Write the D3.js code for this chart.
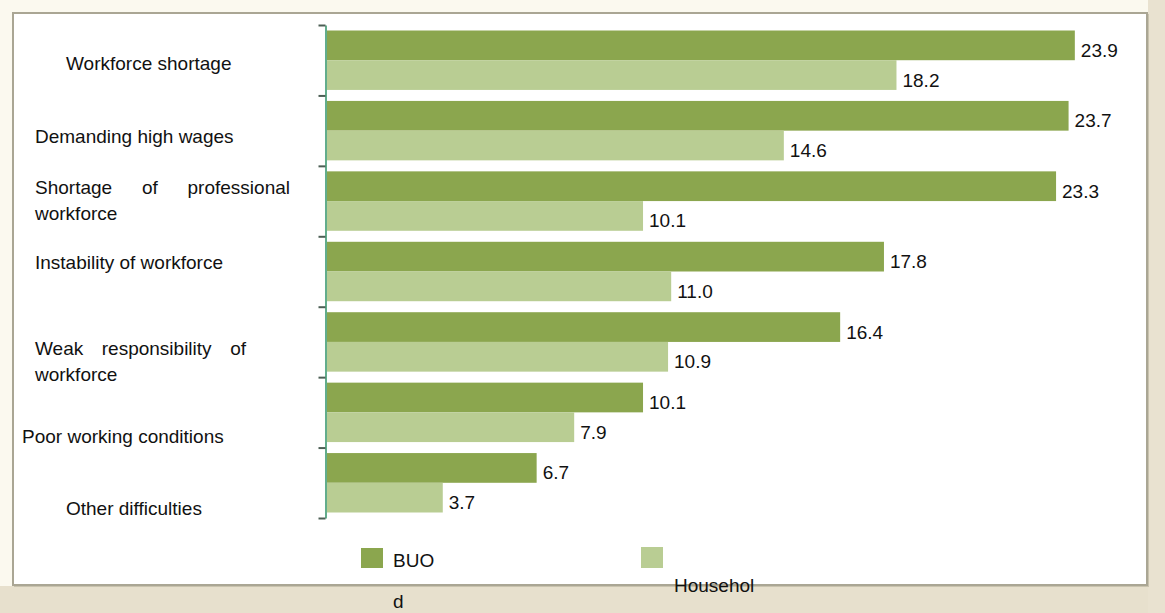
<!DOCTYPE html>
<html>
<head>
<meta charset="utf-8">
<script src="https://cdn.jsdelivr.net/npm/d3@7"></script>
<style>
  html, body { margin: 0; padding: 0; background: #fbf9ef; }
  svg { display: block; }
  text { font-family: "Liberation Sans", Arial, sans-serif; fill: #111; }
</style>
</head>
<body>
<svg id="chart" width="1165" height="613"></svg>
<script>
// Difficulties in hiring workforce, % of respondents
const categories = [
  "Workforce shortage",
  "Demanding high wages",
  "Shortage of professional workforce",
  "Instability of workforce",
  "Weak responsibility of workforce",
  "Poor working conditions",
  "Other difficulties"
];
const seriesNames = ["BUO", "Household"];
const buoValues = [23.9, 23.7, 23.3, 17.8, 16.4, 10.1, 6.7];
const householdValues = [18.2, 14.6, 10.1, 11.0, 10.9, 7.9, 3.7];

// Wrapped category label lines (first line of wrapped labels is justified)
const categoryLines = [
  ["Workforce shortage"],
  ["Demanding high wages"],
  ["Shortage of professional", "workforce"],
  ["Instability of workforce"],
  ["Weak responsibility of", "workforce"],
  ["Poor working conditions"],
  ["Other difficulties"]
];

const colors = { BUO: "#8ba64e", Household: "#b9cd93" };

const svg = d3.select("#chart");
const W = 1165, H = 613;

// Page backdrop: cream, with beige shading to the right and below the panel
svg.append("rect").attr("x", 0).attr("y", 0).attr("width", W).attr("height", H).attr("fill", "#fbf9ef");
svg.append("rect").attr("x", 0).attr("y", 586).attr("width", W).attr("height", H - 586).attr("fill", "#e7e0cd");
svg.append("rect").attr("x", 1148).attr("y", 0).attr("width", W - 1148).attr("height", H).attr("fill", "#e9e2d0");

// Panel
svg.append("rect").attr("x", 13).attr("y", 13).attr("width", 1134).attr("height", 572)
  .attr("fill", "#ffffff").attr("stroke", "#aaa694").attr("stroke-width", 2);
svg.append("line").attr("x1", 1148.5).attr("x2", 1148.5).attr("y1", 14).attr("y2", 587)
  .attr("stroke", "#c9c3ae").attr("stroke-width", 1);
svg.append("line").attr("x1", 14).attr("x2", 1149).attr("y1", 586.5).attr("y2", 586.5)
  .attr("stroke", "#c9c3ae").attr("stroke-width", 1);

// Scales
const x = d3.scaleLinear().domain([0, 25]).range([327, 327 + 31.29 * 25]);
const y = d3.scaleBand().domain(categories).range([25, 518]).padding(0);
const ySub = d3.scaleBand().domain(seriesNames).range([5.5, y.bandwidth() - 5.5]).padding(0);

const rows = categories.map((c, i) => ({
  category: c,
  values: [
    { series: "BUO", value: buoValues[i] },
    { series: "Household", value: householdValues[i] }
  ]
}));

// Bars
const g = svg.append("g");
const groups = g.selectAll("g.row").data(rows).join("g")
  .attr("class", "row")
  .attr("transform", d => `translate(0,${y(d.category)})`);

groups.selectAll("rect").data(d => d.values).join("rect")
  .attr("x", x(0))
  .attr("y", d => ySub(d.series))
  .attr("width", d => x(d.value) - x(0))
  .attr("height", ySub.bandwidth())
  .attr("fill", d => colors[d.series]);

// Value labels
groups.selectAll("text.val").data(d => d.values).join("text")
  .attr("class", "val")
  .attr("x", d => x(d.value) + 6)
  .attr("y", d => ySub(d.series) + ySub.bandwidth() / 2 + 11.5)
  .attr("font-size", 19)
  .text(d => d.value.toFixed(1));

// Category axis: line with ticks at band boundaries
const tickScale = d3.scaleLinear().domain([0, categories.length]).range([25, 518]);
const axis = svg.append("g").attr("transform", "translate(325.5,0)")
  .call(d3.axisLeft(tickScale).ticks(categories.length).tickSize(7).tickSizeOuter(0).tickFormat(""));
axis.select(".domain").attr("stroke", "#62ad8c").attr("stroke-width", 2);
axis.selectAll(".tick line").attr("stroke", "#4c5f55").attr("stroke-width", 2);

// Category labels (placement follows the source layout)
const labelLayout = [
  { x: 66, dy: 10 },
  { x: 35, dy: 12 },
  { x: 35, dy: -7 },
  { x: 35, dy: -3 },
  { x: 35, dy: 13 },
  { x: 22, dy: 31 },
  { x: 66, dy: 32 }
];
const justifyWidth = { "Shortage of professional": 255, "Weak responsibility of": 211 };

// Word-justified line: spread the words so the line fills the given width
function justifiedLine(parent, line, x0, yBase, width) {
  const words = line.split(" ");
  const nodes = words.map(w => parent.append("text").attr("y", yBase).attr("font-size", 19).text(w));
  const widths = nodes.map(n => n.node().getComputedTextLength());
  const gap = (width - d3.sum(widths)) / (words.length - 1);
  let cx = x0;
  nodes.forEach((n, k) => { n.attr("x", cx); cx += widths[k] + gap; });
}

categories.forEach((c, i) => {
  const base = y(c) + y.bandwidth() / 2 + labelLayout[i].dy;
  categoryLines[i].forEach((line, j) => {
    const yy = base + j * 26;
    if (categoryLines[i].length > 1 && j === 0 && justifyWidth[line]) {
      justifiedLine(svg, line, labelLayout[i].x, yy, justifyWidth[line]);
    } else {
      svg.append("text")
        .attr("x", labelLayout[i].x)
        .attr("y", yy)
        .attr("font-size", 19)
        .text(line);
    }
  });
});

// Legend
const legend = svg.append("g");
legend.append("rect").attr("x", 361).attr("y", 548).attr("width", 22).attr("height", 20).attr("fill", colors.BUO);
legend.append("text").attr("x", 393).attr("y", 567).attr("font-size", 19).text("BUO");
legend.append("rect").attr("x", 641).attr("y", 547).attr("width", 22).attr("height", 21).attr("fill", colors.Household);
legend.append("text").attr("x", 674).attr("y", 592).attr("font-size", 19).text("Househol");
legend.append("text").attr("x", 393).attr("y", 608).attr("font-size", 19).text("d");
</script>
</body>
</html>
